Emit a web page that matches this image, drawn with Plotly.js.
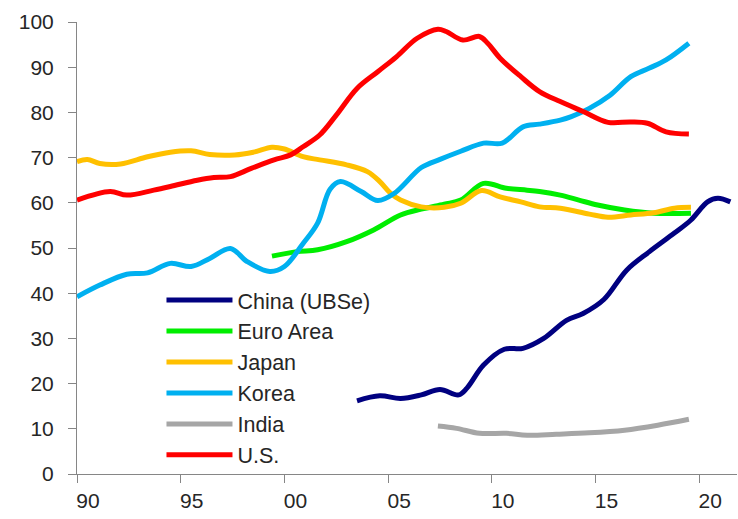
<!DOCTYPE html>
<html>
<head>
<meta charset="utf-8">
<script src="https://cdn.plot.ly/plotly-3.0.1.min.js"></script>
<style>
  html, body { margin: 0; padding: 0; background: #fff; }
  #chart { width: 738px; height: 519px; }
</style>
</head>
<body>
<div id="chart"></div>
<script>
// series (x = fractional year)
var chinaX = [2003.5, 2004.6, 2005.6, 2006.6, 2007.5, 2008.4, 2008.8, 2009.6, 2010.6, 2011.5, 2012.5, 2013.6, 2014.4, 2015.4, 2016.5, 2017.6, 2018.8, 2019.6, 2020.4, 2020.9, 2021.5];
var chinaY = [16.2, 17.3, 16.7, 17.5, 18.7, 17.5, 19.0, 24.1, 27.6, 27.8, 30.0, 34.0, 35.5, 38.6, 45.1, 49.2, 53.3, 56.2, 60.2, 61.0, 60.2];

var euroX = [1999.4, 2000.6, 2001.6, 2003.0, 2004.3, 2005.6, 2006.6, 2007.7, 2008.5, 2009.6, 2010.7, 2011.7, 2012.3, 2013.3, 2014.2, 2015.1, 2016.4, 2017.8, 2019.6];
var euroY = [48.2, 49.2, 49.6, 51.4, 54.0, 57.3, 58.6, 59.7, 60.6, 64.3, 63.2, 62.8, 62.5, 61.7, 60.6, 59.5, 58.4, 57.7, 57.7];

var japanX = [1990.0, 1990.5, 1991.1, 1992.1, 1993.4, 1994.5, 1995.5, 1996.4, 1997.6, 1998.5, 1999.4, 2000.0, 2000.9, 2001.7, 2003.0, 2004.0, 2004.6, 2005.1, 2005.6, 2006.6, 2007.7, 2008.5, 2009.5, 2010.4, 2011.4, 2012.3, 2013.3, 2014.7, 2015.6, 2016.7, 2017.8, 2018.8, 2019.6];
var japanY = [69.1, 69.6, 68.7, 68.6, 70.2, 71.2, 71.5, 70.7, 70.6, 71.2, 72.3, 71.9, 70.2, 69.5, 68.4, 66.9, 64.7, 62.2, 60.6, 59.1, 59.0, 59.9, 62.7, 61.3, 60.2, 59.1, 58.8, 57.5, 56.8, 57.3, 57.8, 58.8, 59.0];

var koreaX = [1990.0, 1991.1, 1992.4, 1993.4, 1994.5, 1995.5, 1996.4, 1997.4, 1998.2, 1999.3, 2000.0, 2000.9, 2001.6, 2002.2, 2002.7, 2003.7, 2004.5, 2005.3, 2006.6, 2007.5, 2008.5, 2009.6, 2010.5, 2011.5, 2012.3, 2013.3, 2013.8, 2014.7, 2015.7, 2016.7, 2017.6, 2018.4, 2019.5];
var koreaY = [39.2, 41.8, 44.2, 44.5, 46.6, 45.9, 47.7, 49.9, 47.0, 44.8, 45.9, 51.0, 55.5, 63.0, 64.7, 62.5, 60.5, 62.1, 67.8, 69.6, 71.4, 73.2, 73.2, 76.8, 77.4, 78.3, 79.0, 80.9, 83.8, 87.9, 89.8, 91.6, 95.3];

var indiaX = [2007.4, 2008.3, 2009.4, 2010.7, 2011.7, 2013.1, 2014.7, 2016.4, 2018.0, 2019.5];
var indiaY = [10.6, 10.1, 9.0, 9.0, 8.6, 8.8, 9.1, 9.7, 10.8, 12.1];

var usX = [1990.0, 1991.6, 1992.4, 1993.7, 1994.5, 1995.8, 1996.6, 1997.4, 1998.4, 1999.5, 2000.3, 2000.9, 2001.7, 2002.5, 2003.5, 2004.5, 2005.4, 2006.4, 2007.4, 2007.8, 2008.6, 2009.4, 2009.8, 2010.4, 2011.4, 2012.3, 2013.3, 2014.4, 2015.6, 2016.7, 2017.5, 2018.4, 2019.5];
var usY = [60.6, 62.5, 61.7, 62.8, 63.6, 65.0, 65.6, 65.8, 67.6, 69.5, 70.6, 72.4, 75.0, 79.4, 85.3, 89.0, 92.3, 96.4, 98.4, 97.9, 96.0, 96.8, 95.3, 92.0, 87.9, 84.6, 82.4, 80.2, 77.8, 77.9, 77.6, 75.7, 75.2];

var xTickVals = [1990, 1995, 2000, 2005, 2010, 2015, 2020];
var xTickText = ['90', '95', '00', '05', '10', '15', '20'];

function line(name, x, y, color) {
    return {
        x: x,
        y: y,
        name: name,
        type: 'scatter',
        mode: 'lines',
        line: { color: color, width: 5, shape: 'spline', smoothing: 1 },
        hoverinfo: 'skip'
    };
}

var traces = [
    line('China (UBSe)', chinaX, chinaY, '#000080'),
    line('Euro Area', euroX, euroY, '#00ee00'),
    line('Japan', japanX, japanY, '#ffc000'),
    line('Korea', koreaX, koreaY, '#00b0f0'),
    line('India', indiaX, indiaY, '#a6a6a6'),
    line('U.S.', usX, usY, '#ff0000')
];

var textColor = '#262626';
var axisColor = '#868686';

var layout = {
    width: 738,
    height: 519,
    margin: { l: 77, r: 1, t: 22, b: 45 },
    paper_bgcolor: '#ffffff',
    plot_bgcolor: '#ffffff',
    font: { family: 'Liberation Sans, Arial, sans-serif', size: 21, color: textColor },
    showlegend: true,
    legend: {
        x: 0.128,
        y: 0.43,
        xanchor: 'left',
        yanchor: 'top',
        bgcolor: 'rgba(0,0,0,0)',
        font: { size: 21.5, color: textColor },
        itemwidth: 66,
        traceorder: 'normal'
    },
    xaxis: {
        range: [1990, 2021.82],
        tickvals: xTickVals,
        ticktext: xTickText,
        ticks: 'outside',
        ticklen: 8,
        tickcolor: axisColor,
        tickwidth: 1,
        ticklabelshift: 11,
        showline: true,
        linecolor: axisColor,
        linewidth: 1,
        showgrid: false,
        zeroline: false,
        tickfont: { size: 21, color: textColor }
    },
    yaxis: {
        range: [0, 100],
        dtick: 10,
        tick0: 0,
        ticks: 'outside',
        ticklen: 8,
        tickcolor: axisColor,
        tickwidth: 1,
        ticklabelstandoff: 10,
        showline: true,
        linecolor: axisColor,
        linewidth: 1,
        showgrid: false,
        zeroline: false,
        tickfont: { size: 21, color: textColor }
    }
};

Plotly.newPlot('chart', traces, layout, { displayModeBar: false, staticPlot: true });
</script>
</body>
</html>
